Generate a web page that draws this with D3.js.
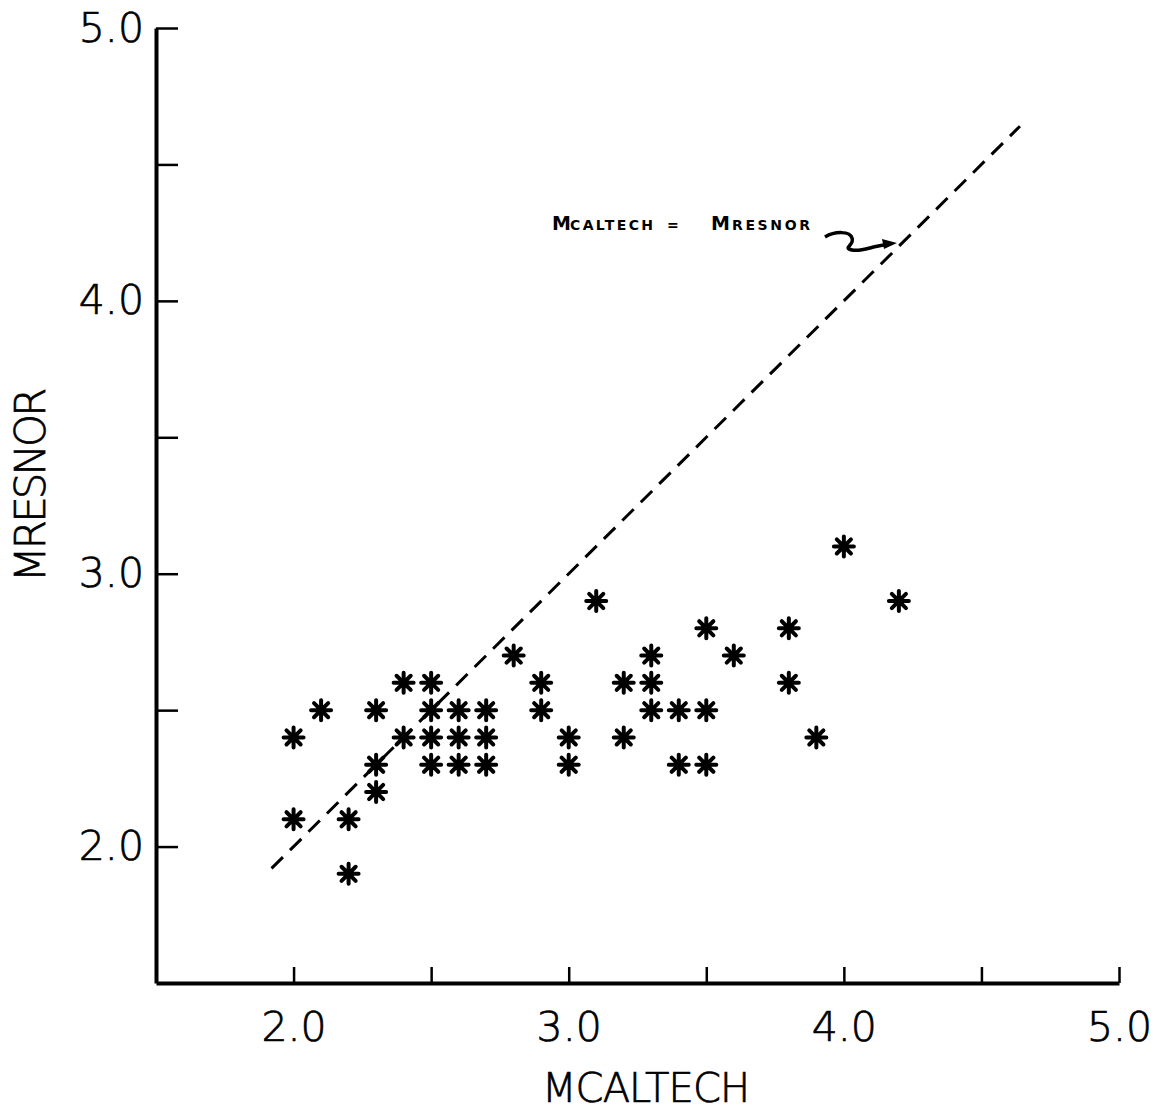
<!DOCTYPE html>
<html>
<head>
<meta charset="utf-8">
<script src="https://cdn.jsdelivr.net/npm/d3@7"></script>
<style>
  body { margin: 0; background: #fff; }
  text { font-family: "DejaVu Sans", sans-serif; fill: #000; }
</style>
</head>
<body>
<div id="chart"></div>
<script>
  // values (Mcaltech, Mresnor)
  var mcaltech = [2.0, 2.0, 2.1, 2.2, 2.2, 2.3, 2.3, 2.3, 2.4, 2.4,
                  2.5, 2.5, 2.5, 2.5, 2.6, 2.6, 2.6, 2.7, 2.7, 2.7,
                  2.8, 2.9, 2.9, 3.0, 3.0, 3.1, 3.2, 3.2, 3.3, 3.3,
                  3.3, 3.4, 3.4, 3.5, 3.5, 3.5, 3.6, 3.8, 3.8, 3.9,
                  4.0, 4.2]
  var mresnor  = [2.4, 2.1, 2.5, 2.1, 1.9, 2.5, 2.3, 2.2, 2.6, 2.4,
                  2.6, 2.5, 2.4, 2.3, 2.5, 2.4, 2.3, 2.5, 2.4, 2.3,
                  2.7, 2.6, 2.5, 2.4, 2.3, 2.9, 2.6, 2.4, 2.7, 2.6,
                  2.5, 2.5, 2.3, 2.8, 2.5, 2.3, 2.7, 2.8, 2.6, 2.4,
                  3.1, 2.9]

  var tickValues = [2.0, 2.5, 3.0, 3.5, 4.0, 4.5, 5.0]
  var equalLine = [1.92, 4.64]   // Mcaltech = Mresnor
  var noteText = ['M', 'CALTECH', '=', 'M', 'RESNOR']

  var width = 1165,
      height = 1110

  var svg = d3.select('#chart')
    .append('svg')
    .attr('width', width)
    .attr('height', height)

  var x = d3.scaleLinear().domain([1.5, 5.0]).range([156, 1119])
  var y = d3.scaleLinear().domain([1.5, 5.0]).range([983, 28])

  var fmt = function(d) { return d % 1 === 0 ? d.toFixed(1) : '' }

  function lettering(sel) {
    sel.style('font-weight', 200)
      .attr('stroke', '#000')
      .attr('stroke-width', 0.7)
      .attr('font-family', null)
  }

  // x axis, ticks point up into the plot
  var gx = svg.append('g')
    .attr('transform', 'translate(0,' + y.range()[0] + ')')
    .call(d3.axisBottom(x).tickValues(tickValues).tickSize(-16).tickSizeOuter(0)
      .tickPadding(29).tickFormat(fmt))
  gx.select('.domain').attr('stroke-width', 4)
  gx.selectAll('.tick line').attr('stroke-width', 2.5)
  gx.selectAll('.tick text').style('font-size', '41px').call(lettering)

  // y axis, ticks point right
  var gy = svg.append('g')
    .attr('transform', 'translate(' + x.range()[0] + ',0)')
    .call(d3.axisLeft(y).tickValues(tickValues).tickSize(-22).tickSizeOuter(0)
      .tickPadding(12).tickFormat(fmt))
  gy.select('.domain').attr('stroke-width', 4)
  gy.selectAll('.tick line').attr('stroke-width', 2.5)
  gy.selectAll('.tick text').style('font-size', '41px').call(lettering)

  // axis titles
  svg.append('text')
    .attr('x', 646)
    .attr('y', 1102)
    .attr('text-anchor', 'middle')
    .style('font-size', '40px')
    .attr('textLength', 208)
    .call(lettering)
    .text('MCALTECH')

  svg.append('text')
    .attr('transform', 'translate(45,485) rotate(-90)')
    .attr('text-anchor', 'middle')
    .style('font-size', '42px')
    .attr('textLength', 195)
    .call(lettering)
    .text('MRESNOR')

  // dashed 1:1 line
  svg.append('line')
    .attr('x1', x(equalLine[0]))
    .attr('y1', y(equalLine[0]))
    .attr('x2', x(equalLine[1]))
    .attr('y2', y(equalLine[1]))
    .attr('stroke', '#000')
    .attr('stroke-width', 3)
    .attr('stroke-dasharray', '16,10')

  // annotation with small caps
  var noteX = [552, 570, 667, 711, 732]
  var noteW = [16, 83, 10, 18, 78]
  var note = svg.append('text')
    .attr('y', 230)
    .style('font-weight', 'bold')
  noteText.forEach(function(t, i) {
    var big = t === 'M'
    note.append('tspan')
      .attr('x', noteX[i])
      .attr('textLength', noteW[i])
      .attr('lengthAdjust', 'spacing')
      .style('font-size', big ? '19px' : '14px')
      .text(t)
  })

  // squiggle arrow pointing at the line
  svg.append('path')
    .attr('d', 'M825,237 C835,231 850,231 852,238 C855,245 842,248 852,250 C862,252 872,246 885,245')
    .attr('fill', 'none')
    .attr('stroke', '#000')
    .attr('stroke-width', 3.5)
  svg.append('path')
    .attr('d', 'M897,243 L882,239 L884,249 Z')
    .attr('fill', '#000')

  // asterisk markers
  var points = mcaltech.map(function(d, i) { return {x: d, y: mresnor[i]} })
  var r = 10
  var star = ''
  for (var a = 0; a < 4; a++) {
    var ang = a * Math.PI / 4
    var dx = r * Math.sin(ang), dy = r * Math.cos(ang)
    star += 'M' + (-dx) + ',' + (-dy) + 'L' + dx + ',' + dy
  }

  svg.selectAll('.pt')
    .data(points)
    .enter().append('path')
    .attr('class', 'pt')
    .attr('transform', function(d) { return 'translate(' + x(d.x) + ',' + y(d.y) + ')' })
    .attr('d', star)
    .attr('stroke', '#000')
    .attr('stroke-width', 4)
    .attr('stroke-linecap', 'round')
</script>
</body>
</html>
